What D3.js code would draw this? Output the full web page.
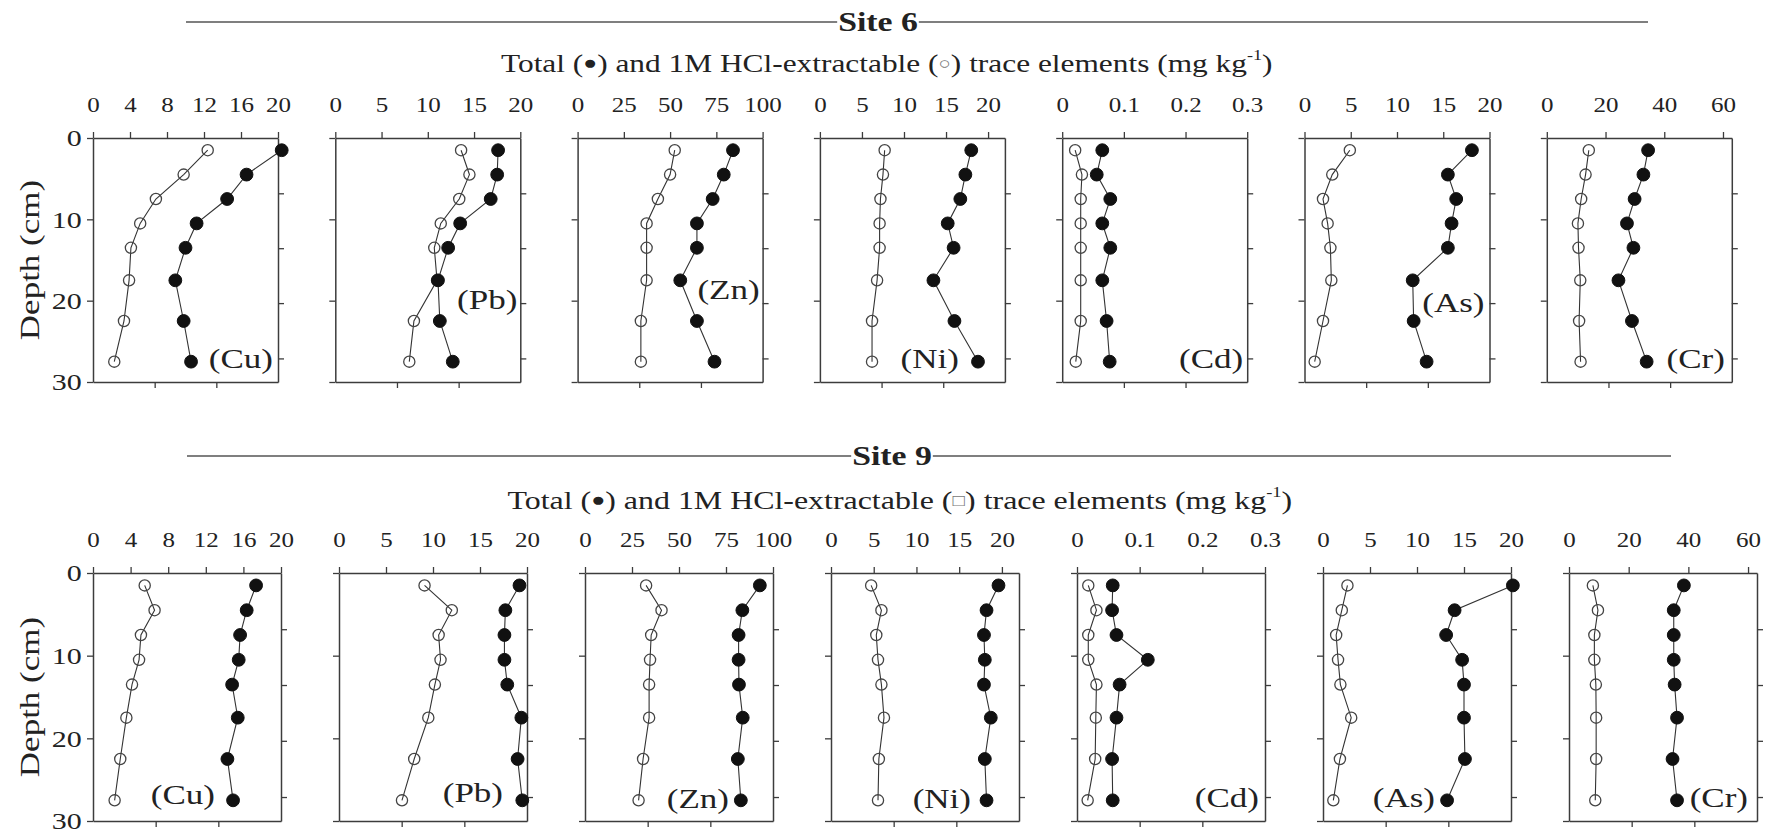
<!DOCTYPE html>
<html><head><meta charset="utf-8">
<script src="https://cdn.jsdelivr.net/npm/d3@7"></script>
<style>
body{margin:0;background:#fff}
svg{display:block;background:#fff}
text{font-family:"Liberation Serif","Times New Roman",serif;fill:#222}
</style>
</head><body>
<svg id="c" width="1765" height="834"></svg>
<script>
// ---------------- data ----------------
const depths = [1.5, 4.5, 7.5, 10.5, 13.5, 17.5, 22.5, 27.5];
const elements = ["Cu", "Pb", "Zn", "Ni", "Cd", "As", "Cr"];
const xMax = [20, 20, 100, 22, 0.3, 20, 63];
const xTicks = [[0,4,8,12,16,20],[0,5,10,15,20],[0,25,50,75,100],[0,5,10,15,20],[0,0.1,0.2,0.3],[0,5,10,15,20],[0,20,40,60]];
const yTicks = [0, 10, 20, 30];
const rightTicks = [6.8, 13.55, 20.3, 27.1];
const bottomFractions = [1/3, 2/3];
const siteNames = ["Site 6", "Site 9"];
const extractSymbols = ["\u25CB", "\u25A1"];

const site6Total = [
  [20.4, 16.6, 14.5, 11.2, 10.0, 8.9, 9.8, 10.6],
  [17.6, 17.5, 16.8, 13.5, 12.2, 11.1, 11.3, 12.7],
  [84, 79, 73, 64.5, 64.5, 55.5, 64.5, 74],
  [18.0, 17.3, 16.7, 15.2, 15.9, 13.5, 16.0, 18.8],
  [0.065, 0.056, 0.078, 0.065, 0.078, 0.065, 0.072, 0.077],
  [18.1, 15.5, 16.4, 15.9, 15.5, 11.7, 11.8, 13.2],
  [34.5, 32.9, 29.9, 27.3, 29.5, 24.4, 29.0, 34.0]
];
const site6Extract = [
  [12.4, 9.8, 6.8, 5.1, 4.1, 3.9, 3.35, 2.3],
  [13.6, 14.5, 13.4, 11.4, 10.7, 11.0, 8.5, 8.0],
  [52.5, 50, 43.4, 37.3, 37.3, 37.3, 34.2, 34.2],
  [7.7, 7.5, 7.2, 7.1, 7.1, 6.8, 6.2, 6.2],
  [0.021, 0.032, 0.030, 0.030, 0.030, 0.030, 0.030, 0.022],
  [4.9, 3.0, 2.0, 2.5, 2.8, 2.9, 2.0, 1.1],
  [14.3, 13.2, 11.7, 10.6, 10.8, 11.4, 11.0, 11.5]
];
const site9Total = [
  [17.35, 16.35, 15.65, 15.5, 14.8, 15.4, 14.3, 14.9],
  [19.2, 17.7, 17.6, 17.6, 17.9, 19.4, 19.0, 19.5],
  [93, 83.7, 81.7, 81.7, 81.9, 83.9, 81.3, 82.9],
  [19.6, 18.2, 17.9, 18.0, 17.9, 18.7, 18.0, 18.2],
  [0.057, 0.056, 0.063, 0.113, 0.068, 0.063, 0.056, 0.057],
  [20.2, 14.0, 13.1, 14.8, 15.0, 15.0, 15.1, 13.2],
  [38.5, 35.1, 35.1, 35.1, 35.4, 36.2, 34.7, 36.2]
];
const site9Extract = [
  [5.5, 6.55, 5.1, 4.9, 4.15, 3.55, 2.9, 2.3],
  [9.1, 12.0, 10.6, 10.8, 10.2, 9.5, 8.0, 6.7],
  [32.5, 40.7, 35.2, 34.6, 34.1, 34.1, 30.9, 28.5],
  [4.7, 5.9, 5.3, 5.5, 5.9, 6.2, 5.6, 5.5],
  [0.018, 0.031, 0.018, 0.018, 0.031, 0.030, 0.029, 0.017],
  [2.6, 2.0, 1.4, 1.6, 1.85, 3.0, 1.8, 1.1],
  [8.0, 9.7, 8.5, 8.5, 9.0, 9.1, 9.1, 8.8]
];

// ---------------- layout ----------------
const SX = 1.25;
const rows = [
  { total: site6Total, extract: site6Extract, top: 138, bottom: 382, left0: 93, step: 242.3, width: 185,
    lineY: 22, lineX: [186, 1648], titleX: 878, subY: 63, subX: 887, subW: 772,
    labels: [[-5, 27.1], [-3, 19.9], [-3, 18.7], [-46, 27.1], [-4, 27.1], [-5, 20.3], [-7, 27.1]] },
  { total: site9Total, extract: site9Extract, top: 573, bottom: 821, left0: 93, step: 246, width: 188,
    lineY: 456, lineX: [187, 1671], titleX: 892, subY: 500, subX: 900, subW: 785,
    labels: [[-66, 26.8], [-24, 26.6], [-44, 27.3], [-48, 27.3], [-6, 27.2], [-76, 27.2], [-9, 27.2]] }
];
const AXIS_COLOR = "#3c3c3c";

const svg = d3.select("#c");

function styleAxis(sel, fs) {
  sel.attr("font-family", null).attr("font-size", fs).attr("color", AXIS_COLOR);
  sel.select(".domain").attr("stroke-width", 1.5);
  sel.selectAll(".tick line").attr("stroke-width", 1.3);
  sel.selectAll(".tick text").attr("fill", "#222");
}

rows.forEach((R, ri) => {
  const g = svg.append("g");

  // ---- title with line ----
  const title = g.append("text")
    .attr("transform", `translate(${R.titleX},${R.lineY}) scale(${SX},1)`)
    .attr("text-anchor", "middle").attr("dominant-baseline", "central")
    .attr("font-size", 27).attr("font-weight", "bold")
    .text(siteNames[ri]);
  const tw = title.node().getComputedTextLength() * SX;
  g.insert("line", "text").attr("x1", R.lineX[0]).attr("x2", R.titleX - tw / 2 - 1)
    .attr("y1", R.lineY).attr("y2", R.lineY).attr("stroke", "#555").attr("stroke-width", 1.6);
  g.insert("line", "text").attr("x1", R.titleX + tw / 2 + 1).attr("x2", R.lineX[1])
    .attr("y1", R.lineY).attr("y2", R.lineY).attr("stroke", "#555").attr("stroke-width", 1.6);

  // ---- subtitle ----
  const sub = g.append("text").attr("font-size", 26).attr("dominant-baseline", "central");
  sub.append("tspan").text("Total (");
  sub.append("tspan").attr("font-size", 19).text("\u25CF");
  sub.append("tspan").text(") and 1M HCl-extractable (");
  sub.append("tspan").attr("font-size", 17).attr("fill", "#777").text(extractSymbols[ri]);
  sub.append("tspan").text(") trace elements (mg kg");
  sub.append("tspan").attr("font-size", 15).attr("dy", -8).text("-1");
  sub.append("tspan").attr("dy", 8).text(")");
  const sl = sub.node().getComputedTextLength();
  const ssx = R.subW / sl;
  sub.attr("transform", `translate(${R.subX - R.subW / 2},${R.subY}) scale(${ssx},1)`);

  // ---- panels ----
  const y = d3.scaleLinear().domain([0, 30]).range([R.top, R.bottom]);
  elements.forEach((el, i) => {
    const left = R.left0 + i * R.step, right = left + R.width;
    const x = d3.scaleLinear().domain([0, xMax[i]]).range([left, right]);
    const pg = g.append("g");

    const ta = pg.append("g").attr("transform", `translate(0,${R.top})`)
      .call(d3.axisTop(x).tickValues(xTicks[i]).tickSize(6).tickSizeOuter(0).tickPadding(20).tickFormat(d => String(d)));
    styleAxis(ta, 20);
    ta.selectAll(".tick text").attr("transform", `scale(${SX},1)`);

    const ba = pg.append("g").attr("transform", `translate(0,${R.bottom})`)
      .call(d3.axisBottom(x).tickValues(bottomFractions.map(f => f * xMax[i])).tickSize(6).tickSizeOuter(0).tickFormat(""));
    styleAxis(ba, 20);

    const la = pg.append("g").attr("transform", `translate(${left},0)`)
      .call(d3.axisLeft(y).tickValues(yTicks).tickSize(6).tickSizeOuter(0).tickPadding(3)
        .tickFormat(i === 0 ? (d => String(d)) : ""));
    styleAxis(la, 24);
    la.selectAll(".tick text").attr("transform", `scale(${SX},1)`);

    const ra = pg.append("g").attr("transform", `translate(${right},0)`)
      .call(d3.axisRight(y).tickValues(rightTicks).tickSize(6).tickSizeOuter(0).tickFormat(""));
    styleAxis(ra, 20);

    const line = d3.line().x(d => x(d.v)).y(d => y(d.d));
    const tData = R.total[i].map((v, k) => ({ v, d: depths[k] }));
    const eData = R.extract[i].map((v, k) => ({ v, d: depths[k] }));

    pg.append("path").datum(eData).attr("d", line).attr("fill", "none").attr("stroke", "#333").attr("stroke-width", 1.1);
    pg.append("path").datum(tData).attr("d", line).attr("fill", "none").attr("stroke", "#333").attr("stroke-width", 1.1);

    pg.selectAll("circle.e").data(eData).join("circle").attr("class", "e")
      .attr("cx", d => x(d.v)).attr("cy", d => y(d.d)).attr("r", 5.6)
      .attr("fill", "none").attr("stroke", "#444").attr("stroke-width", 1.3);
    pg.selectAll("circle.t").data(tData).join("circle").attr("class", "t")
      .attr("cx", d => x(d.v)).attr("cy", d => y(d.d)).attr("r", 6.4)
      .attr("fill", "#111").attr("stroke", "#111");

    const lp = R.labels[i];
    pg.append("text")
      .attr("transform", `translate(${right + lp[0]},${y(lp[1])}) scale(${SX},1)`)
      .attr("text-anchor", "end").attr("dominant-baseline", "central")
      .attr("font-size", 28).text(`(${el})`);
  });

  // y axis title (stretched along its reading direction)
  g.append("text")
    .attr("transform", `translate(30,${(R.top + R.bottom) / 2}) rotate(-90) scale(${SX},1)`)
    .attr("text-anchor", "middle").attr("dominant-baseline", "central")
    .attr("font-size", 28).text("Depth (cm)");
});
</script>
</body></html>
